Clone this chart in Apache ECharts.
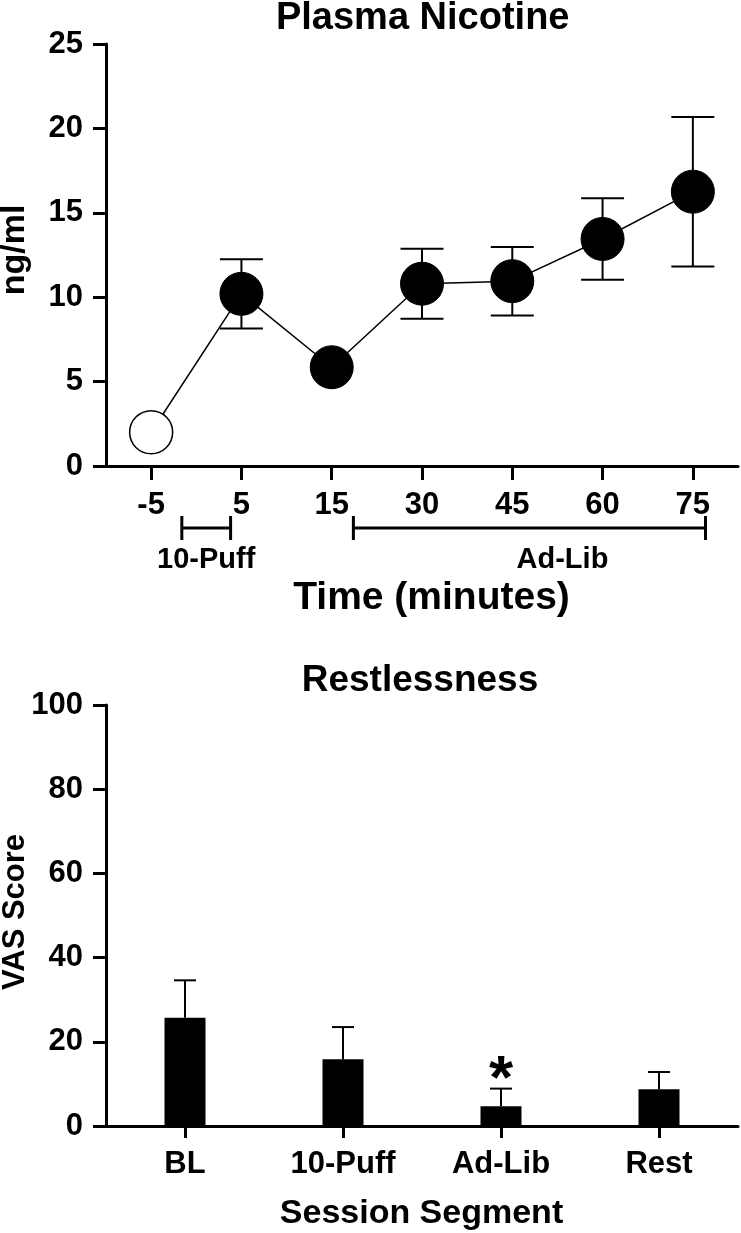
<!DOCTYPE html>
<html><head><meta charset="utf-8">
<script src="https://cdn.jsdelivr.net/npm/echarts@6/dist/echarts.min.js"></script>
<style>html,body{margin:0;padding:0;background:#fff}#c{width:741px;height:1233px}</style>
</head><body><div id="c"></div>
<script>
// ---- Plasma Nicotine (top panel) ----
const timeLabels = ['-5', '5', '15', '30', '45', '60', '75'];
const nicotineMean = [2.0, 10.2, 5.85, 10.8, 10.95, 13.45, 16.25];
// null = error bar smaller than the symbol (not drawn)
const nicotineSem = [null, 2.05, null, 2.07, 2.03, 2.41, 4.43];
const nicotineMin = 0, nicotineMax = 25, nicotineStep = 5;
// phase brackets, in category-index units
const phaseNames = ['10-Puff', 'Ad-Lib'];
const phaseStart = [0.34, 2.24];
const phaseEnd = [0.88, 6.14];

// ---- Restlessness (bottom panel) ----
const segments = ['BL', '10-Puff', 'Ad-Lib', 'Rest'];
const vasMean = [25.7, 15.85, 4.68, 8.72];
const vasSem = [8.9, 7.65, 4.2, 4.1];
const vasMarks = ['', '', '*', ''];
const vasMin = 0, vasMax = 100, vasStep = 20;

const FF = '"Liberation Sans", Arial, sans-serif';
const BLACK = '#000';

const chart = echarts.init(document.getElementById('c'), null, {renderer: 'canvas'});

function axisStyle(len) {
  return {
    axisLine: {show: true, onZero: false, lineStyle: {color: BLACK, width: 3}},
    axisTick: {show: true, inside: false, length: len, lineStyle: {color: BLACK, width: 3}},
    splitLine: {show: false}
  };
}

const labelStyle = (margin) => ({
  color: BLACK, fontFamily: FF, fontWeight: 'bold', fontSize: 31, lineHeight: 31, margin: margin
});

const option = {
  animation: false,
  backgroundColor: '#fff',
  grid: [
    {left: 106, right: 3, top: 44, height: 422},
    {left: 106, right: 3, top: 705, height: 421}
  ],
  xAxis: [
    Object.assign({type: 'category', gridIndex: 0, data: timeLabels, boundaryGap: true,
      axisLabel: labelStyle(24)}, axisStyle(14),
      {axisTick: {show: true, alignWithLabel: true, length: 14, lineStyle: {color: BLACK, width: 3}}}),
    {type: 'value', gridIndex: 0, min: -0.5, max: 6.5, show: false},
    Object.assign({type: 'category', gridIndex: 1, data: segments, boundaryGap: true,
      axisLabel: labelStyle(23)}, axisStyle(12),
      {axisTick: {show: true, alignWithLabel: true, length: 12, lineStyle: {color: BLACK, width: 3}}})
  ],
  yAxis: [
    Object.assign({type: 'value', gridIndex: 0, min: nicotineMin, max: nicotineMax, interval: nicotineStep,
      axisLabel: labelStyle(23)}, axisStyle(13)),
    Object.assign({type: 'value', gridIndex: 1, min: vasMin, max: vasMax, interval: vasStep,
      axisLabel: labelStyle(23)}, axisStyle(13))
  ],
  series: [
    // error bars (top)
    {
      type: 'custom', xAxisIndex: 0, yAxisIndex: 0, z: 2, clip: false,
      data: nicotineMean.map((m, i) => nicotineSem[i] == null ? [i, m, m] : [i, m - nicotineSem[i], m + nicotineSem[i]]),
      renderItem: function (params, api) {
        if (nicotineSem[params.dataIndex] == null) return {type: 'group', children: []};
        const lo = api.coord([api.value(0), api.value(1)]);
        const hi = api.coord([api.value(0), api.value(2)]);
        const hw = 21.5;
        const st = {stroke: BLACK, lineWidth: 2};
        return {type: 'group', children: [
          {type: 'line', shape: {x1: lo[0], y1: lo[1], x2: hi[0], y2: hi[1]}, style: st},
          {type: 'line', shape: {x1: lo[0] - hw, y1: lo[1], x2: lo[0] + hw, y2: lo[1]}, style: st},
          {type: 'line', shape: {x1: hi[0] - hw, y1: hi[1], x2: hi[0] + hw, y2: hi[1]}, style: st}
        ]};
      }
    },
    // mean line (top)
    {
      type: 'line', xAxisIndex: 0, yAxisIndex: 0, z: 3,
      symbol: 'circle', symbolSize: 43, showAllSymbol: true,
      lineStyle: {color: BLACK, width: 1.5},
      itemStyle: {color: BLACK, borderColor: BLACK, borderWidth: 1},
      data: nicotineMean.map((v, i) => i === 0
        ? {value: v, itemStyle: {color: '#fff', borderColor: BLACK, borderWidth: 1.5}}
        : v)
    },
    // phase brackets (top, below axis)
    {
      type: 'custom', xAxisIndex: 1, yAxisIndex: 0, z: 4, clip: false,
      data: phaseNames.map((n, i) => [phaseStart[i], phaseEnd[i]]),
      renderItem: function (params, api) {
        const a = api.coord([api.value(0), 0]);
        const b = api.coord([api.value(1), 0]);
        const y = a[1] + 62;
        const st = {stroke: BLACK, lineWidth: 3};
        return {type: 'group', children: [
          {type: 'line', shape: {x1: a[0], y1: y, x2: b[0], y2: y}, style: st},
          {type: 'line', shape: {x1: a[0], y1: y - 12, x2: a[0], y2: y + 12}, style: st},
          {type: 'line', shape: {x1: b[0], y1: y - 12, x2: b[0], y2: y + 12}, style: st},
          {type: 'text', x: (a[0] + b[0]) / 2 + (params.dataIndex === 1 ? 33 : 0), y: a[1] + 94,
            style: {text: phaseNames[params.dataIndex], fill: BLACK, font: 'bold 29px ' + FF,
              textAlign: 'center', textVerticalAlign: 'middle'}}
        ]};
      }
    },
    // bars (bottom)
    {
      type: 'bar', xAxisIndex: 2, yAxisIndex: 1, barWidth: 41, z: 2,
      itemStyle: {color: BLACK},
      data: vasMean
    },
    // error bars + significance (bottom)
    {
      type: 'custom', xAxisIndex: 2, yAxisIndex: 1, z: 3, clip: false,
      data: vasMean.map((m, i) => [i, m, m + vasSem[i]]),
      renderItem: function (params, api) {
        const lo = api.coord([api.value(0), api.value(1)]);
        const hi = api.coord([api.value(0), api.value(2)]);
        const hw = 11;
        const st = {stroke: BLACK, lineWidth: 2};
        const ch = [
          {type: 'line', shape: {x1: lo[0], y1: lo[1], x2: hi[0], y2: hi[1]}, style: st},
          {type: 'line', shape: {x1: hi[0] - hw, y1: hi[1], x2: hi[0] + hw, y2: hi[1]}, style: st}
        ];
        const mark = vasMarks[params.dataIndex];
        if (mark) {
          ch.push({type: 'text', x: hi[0], y: hi[1] - 8,
            style: {text: mark, fill: BLACK, font: 'bold 62px ' + FF, textAlign: 'center', textVerticalAlign: 'middle'}});
        }
        return {type: 'group', children: ch};
      }
    }
  ],
  graphic: [
    {type: 'text', x: 422.7, y: 19, style: {text: 'Plasma Nicotine', fill: BLACK, font: 'bold 38px ' + FF, textAlign: 'center', textVerticalAlign: 'middle'}},
    {type: 'text', x: 431.5, y: 598, style: {text: 'Time (minutes)', fill: BLACK, font: 'bold 39px ' + FF, textAlign: 'center', textVerticalAlign: 'middle'}},
    {type: 'text', x: 15, y: 250, rotation: Math.PI / 2, style: {text: 'ng/ml', fill: BLACK, font: 'bold 34px ' + FF, textAlign: 'center', textVerticalAlign: 'middle'}},
    {type: 'text', x: 420, y: 681, style: {text: 'Restlessness', fill: BLACK, font: 'bold 37px ' + FF, textAlign: 'center', textVerticalAlign: 'middle'}},
    {type: 'text', x: 15, y: 912, rotation: Math.PI / 2, style: {text: 'VAS Score', fill: BLACK, font: 'bold 31px ' + FF, textAlign: 'center', textVerticalAlign: 'middle'}},
    {type: 'text', x: 421.5, y: 1214, style: {text: 'Session Segment', fill: BLACK, font: 'bold 34px ' + FF, textAlign: 'center', textVerticalAlign: 'middle'}}
  ]
};
chart.setOption(option);
</script>
</body></html>
